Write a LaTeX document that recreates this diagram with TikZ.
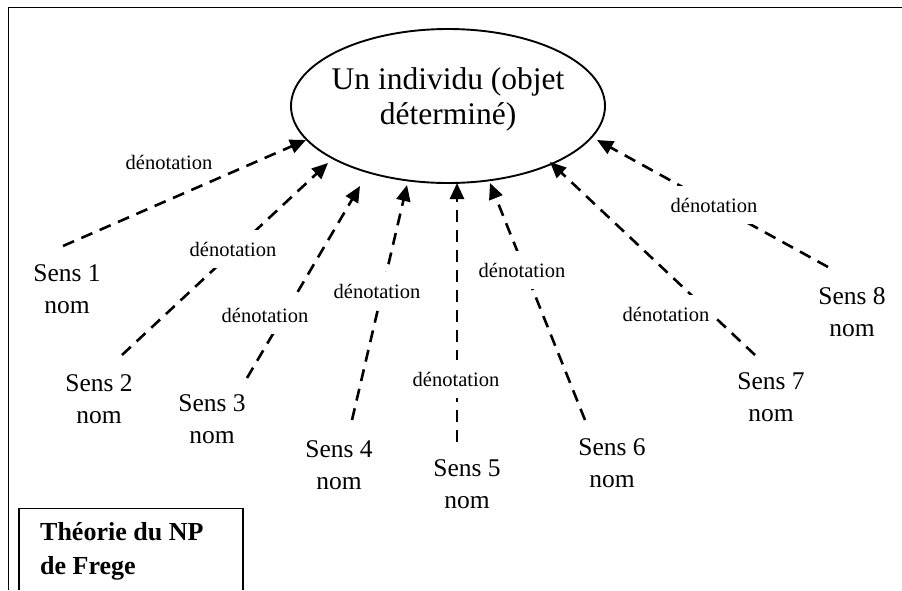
\documentclass[tikz,border=0pt]{standalone}
\usepackage{fontspec}
\setmainfont{Liberation Serif}
\usetikzlibrary{shapes.geometric,arrows.meta}
\begin{document}
\begin{tikzpicture}[x=1pt,y=-1pt,
  frame/.style={line width=1.8pt},
  den/.style={line width=2.6pt, dash pattern=on 12pt off 8pt, -{Triangle[length=16pt,width=14pt]}},
  lab/.style={font=\fontsize{20.5}{24}\selectfont, inner xsep=7pt, inner ysep=12pt},
  gaplab/.style={lab, fill=white},
  sens/.style={font=\fontsize{25.5}{32}\selectfont, align=center, inner sep=0pt}]
\useasboundingbox (0,0) rectangle (902,590);
% outer frame (open at right and bottom)
\draw[frame] (8.5,590) -- (8.5,7.5) -- (902,7.5);
% central ellipse
\node[ellipse, draw, line width=1.9pt, minimum width=314pt, minimum height=154pt, inner sep=0pt] (ell) at (448,106) {};
\node[font=\fontsize{31.5}{35}\selectfont, align=center, inner sep=0pt] (elltxt) at (448,99) {Un individu (objet\\déterminé)};
% sens nodes
\node[sens] (n1) at (67,289) {Sens 1\\nom};
\node[sens] (n2) at (99,399) {Sens 2\\nom};
\node[sens] (n3) at (212,419) {Sens 3\\nom};
\node[sens] (n4) at (339,465) {Sens 4\\nom};
\node[sens] (n5) at (467,484) {Sens 5\\nom};
\node[sens] (n6) at (612,463) {Sens 6\\nom};
\node[sens] (n7) at (771,397) {Sens 7\\nom};
\node[sens] (n8) at (852,312) {Sens 8\\nom};
% connector ends
\coordinate (s1) at (63,246);  \coordinate (t1) at (306,140);
\coordinate (s2) at (122,355); \coordinate (t2) at (328,163);
\coordinate (s3) at (247,378); \coordinate (t3) at (360,186);
\coordinate (s4) at (352,420); \coordinate (t4) at (407,185);
\coordinate (s5) at (457,442); \coordinate (t5) at (457,183);
\coordinate (s6) at (585,420); \coordinate (t6) at (490,183);
\coordinate (s7) at (755,355); \coordinate (t7) at (550,162);
\coordinate (s8) at (828,267); \coordinate (t8) at (597,140);
\foreach \i in {1,...,8} {\draw[den] (s\i) -- (t\i);}
% labels
\node[lab] (d1) at (169,162) {dénotation};
\node[gaplab] (d2) at (233,249) {dénotation};
\node[gaplab] (d3) at (265,315) {dénotation};
\node[gaplab] (d4) at (377,291) {dénotation};
\node[gaplab] (d5) at (456,379) {dénotation};
\node[gaplab] (d6) at (522,270) {dénotation};
\node[gaplab] (d7) at (666,314) {dénotation};
\node[gaplab] (d8) at (714,205) {dénotation};
% Frege box
\draw[frame] (19,590) -- (19,508.5) -- (243,508.5) -- (243,590);
\node[font=\bfseries\fontsize{26}{34}\selectfont, align=left, anchor=west, inner sep=0pt] (frege) at (40,551) {Théorie du NP\\de Frege};
\end{tikzpicture}
\end{document}
